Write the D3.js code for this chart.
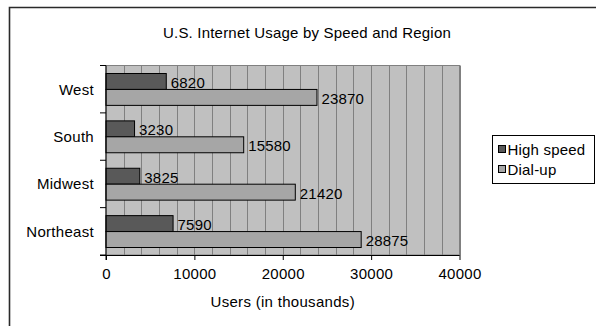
<!DOCTYPE html>
<html>
<head>
<meta charset="utf-8">
<script src="https://cdn.jsdelivr.net/npm/d3@7"></script>
<style>
  html, body { margin: 0; padding: 0; background: #fff; }
  svg { display: block; }
  text { font-family: "Liberation Sans", Arial, sans-serif; fill: #000; }
</style>
</head>
<body>
<svg id="chart" width="596" height="326"></svg>
<script>
const title = "U.S. Internet Usage by Speed and Region";
const categories = ["West", "South", "Midwest", "Northeast"];
const seriesNames = ["High speed", "Dial-up"];
const highSpeed = [6820, 3230, 3825, 7590];
const dialUp = [23870, 15580, 21420, 28875];
const xTicks = [0, 10000, 20000, 30000, 40000];
const xTitle = "Users (in thousands)";
const colors = ["#595959", "#a6a6a6"];

const svg = d3.select("#chart");
const plot = { left: 106, right: 459.5, top: 65.5, bottom: 255 };

// frame
svg.append("path").attr("d", "M9.5,326 V7.5 H596")
  .attr("fill", "none").attr("stroke", "#2a2a2a").attr("stroke-width", 1.6);

// title
svg.append("text").attr("x", 307).attr("y", 37.5).attr("text-anchor", "middle")
  .attr("font-size", 15).attr("letter-spacing", 0.2).text(title);

const x = d3.scaleLinear().domain([0, 40000]).range([plot.left, plot.right]);
const y = d3.scaleBand().domain(categories).range([plot.top, plot.bottom]).padding(0);
const ys = d3.scaleBand().domain(seriesNames).range([8, y.bandwidth() - 7.5]).padding(0);

// plot background
svg.append("rect").attr("x", plot.left).attr("y", plot.top)
  .attr("width", plot.right - plot.left).attr("height", plot.bottom - plot.top)
  .attr("fill", "#c0c0c0").attr("stroke", "#808080").attr("stroke-width", 1);

// gridlines every 2000
const grid = d3.range(2000, 40001, 2000);
svg.append("g").selectAll("line").data(grid).join("line")
  .attr("x1", d => Math.round(x(d)) + 0.5).attr("x2", d => Math.round(x(d)) + 0.5)
  .attr("y1", plot.top).attr("y2", plot.bottom)
  .attr("stroke", "#808080").attr("stroke-width", 1);

// bars
const data = categories.map((c, i) => ({ cat: c, vals: [highSpeed[i], dialUp[i]] }));
const groups = svg.append("g").selectAll("g").data(data).join("g")
  .attr("transform", d => `translate(0,${y(d.cat)})`);
groups.selectAll("rect").data(d => d.vals.map((v, j) => ({ v, s: seriesNames[j], j })))
  .join("rect")
  .attr("x", x(0)).attr("y", d => ys(d.s))
  .attr("width", d => x(d.v) - x(0)).attr("height", ys.bandwidth())
  .attr("fill", d => colors[d.j]).attr("stroke", "#000").attr("stroke-width", 1);
groups.selectAll("text").data(d => d.vals.map((v, j) => ({ v, s: seriesNames[j] })))
  .join("text")
  .attr("x", d => x(d.v) + 4.5).attr("y", d => ys(d.s) + ys.bandwidth() / 2 + 1)
  .attr("dominant-baseline", "central")
  .attr("font-size", 15).attr("letter-spacing", 0.2).text(d => d.v);

// x axis
const xAxis = d3.axisBottom(x).tickValues(xTicks).tickSize(5).tickPadding(8).tickFormat(d3.format("d"));
const gx = svg.append("g").attr("transform", `translate(0,${plot.bottom})`).call(xAxis);
gx.select(".domain").attr("stroke", "#000").attr("d", `M${plot.left - 6},0.5H${plot.right}`);
gx.selectAll(".tick line").attr("stroke", "#000");
gx.selectAll("text").attr("font-size", 15).attr("font-family", "Liberation Sans, Arial, sans-serif")
  .attr("letter-spacing", 0.3);

// y axis (ticks at band boundaries)
const gy = svg.append("g").attr("transform", `translate(${plot.left},0)`);
const bounds = categories.map(c => y(c)).concat([plot.bottom]);
gy.append("line").attr("x1", 0).attr("x2", 0).attr("y1", plot.top).attr("y2", plot.bottom + 5)
  .attr("stroke", "#000");
gy.selectAll("line.t").data(bounds).join("line").attr("class", "t")
  .attr("x1", -6).attr("x2", 0).attr("y1", d => d).attr("y2", d => d).attr("stroke", "#000");
gy.selectAll("text").data(categories).join("text")
  .attr("x", -12).attr("y", d => y(d) + y.bandwidth() / 2)
  .attr("text-anchor", "end").attr("dominant-baseline", "central")
  .attr("font-size", 15).attr("letter-spacing", 0.3).text(d => d);

// x title
svg.append("text").attr("x", (plot.left + plot.right) / 2).attr("y", 307)
  .attr("text-anchor", "middle").attr("font-size", 15).attr("letter-spacing", 0.3).text(xTitle);

// legend
const lg = svg.append("g").attr("transform", "translate(492.5,135.5)");
lg.append("rect").attr("width", 102).attr("height", 48).attr("fill", "#fff")
  .attr("stroke", "#000").attr("stroke-width", 1);
const items = lg.selectAll("g").data(seriesNames).join("g")
  .attr("transform", (d, i) => `translate(0,${13.5 + i * 20})`);
items.append("rect").attr("x", 6).attr("y", -3.5).attr("width", 7).attr("height", 7)
  .attr("fill", (d, i) => colors[i]).attr("stroke", "#000");
items.append("text").attr("x", 15).attr("y", 0).attr("dominant-baseline", "central")
  .attr("font-size", 15).attr("letter-spacing", 0.2).text(d => d);
</script>
</body>
</html>
